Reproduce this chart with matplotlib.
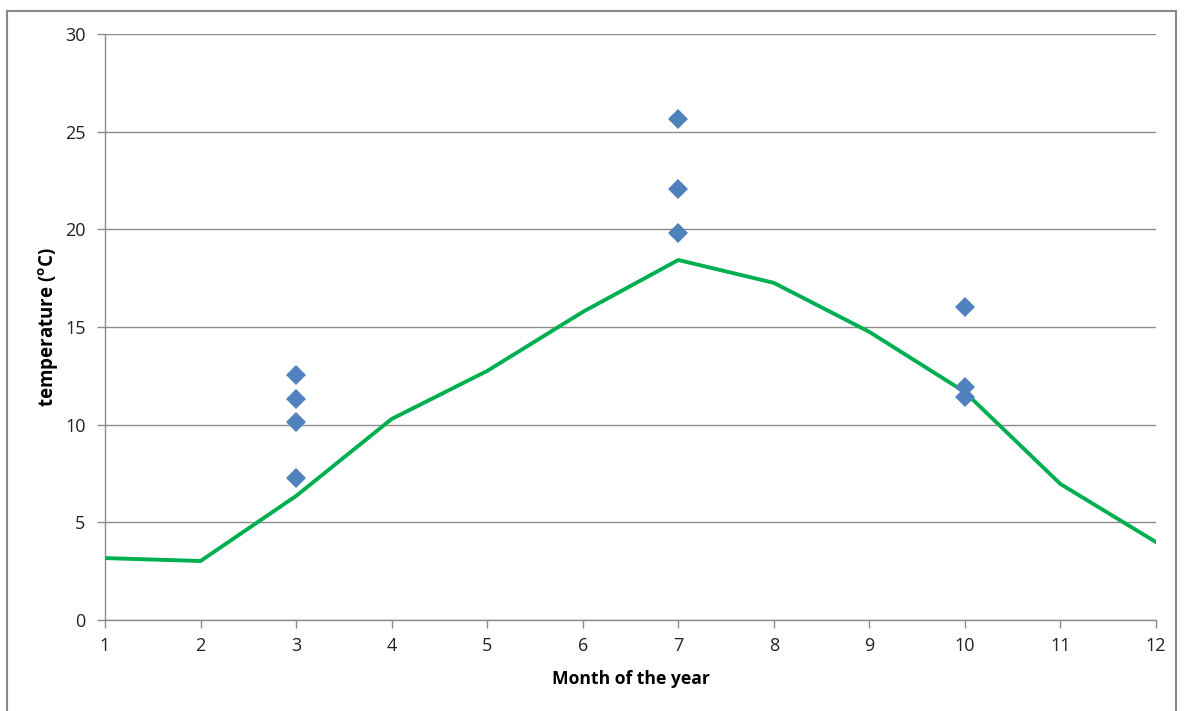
import matplotlib
matplotlib.use("Agg")
import matplotlib.pyplot as plt
from matplotlib.patches import Rectangle

months = list(range(1, 13))
line_temp = [3.17, 3.02, 6.35, 10.29, 12.75, 15.77, 18.43, 17.26, 14.75, 11.67, 6.96, 3.99]

obs_month = [3, 3, 3, 3, 7, 7, 7, 10, 10, 10]
obs_temp = [12.54, 11.32, 10.14, 7.27, 25.65, 22.07, 19.82, 16.03, 11.93, 11.42]

xticks = list(range(1, 13))
yticks = [0, 5, 10, 15, 20, 25, 30]

plt.rcParams['font.family'] = ['Open Sans', 'DejaVu Sans']
plt.rcParams['mathtext.fontset'] = 'custom'
plt.rcParams['mathtext.bf'] = 'Open Sans:bold'

fig = plt.figure(figsize=(11.84, 7.11), dpi=100)
ax = fig.add_axes([105/1184, 1-620/711, (1156-105)/1184, (620-34)/711])

# figure border
fig.patches.append(Rectangle((7/1184, -0.01), (1176-7)/1184, 1-11/711+0.01,
                             transform=fig.transFigure, fill=False,
                             edgecolor='#898989', linewidth=1.5))

ax.plot(months, line_temp, color='#00B050', linewidth=2.8, zorder=3)
ax.plot(obs_month, obs_temp, linestyle='none', marker='D', markersize=10.5,
        color='#4F81BD', markeredgewidth=0, zorder=4)

ax.set_xlim(1, 12)
ax.set_ylim(0, 30)
ax.set_xticks(xticks)
ax.set_yticks(yticks)
ax.yaxis.grid(True, color='#8c8c8c', linewidth=1)
ax.set_axisbelow(True)
for s in ['top', 'right']:
    ax.spines[s].set_visible(False)
for s in ['left', 'bottom']:
    ax.spines[s].set_color('#8c8c8c')
    ax.spines[s].set_linewidth(1)
ax.tick_params(axis='both', colors='#8c8c8c', labelcolor='#222222',
               labelsize=13, length=6, width=1, direction='out')
ax.tick_params(axis='y', pad=8)
ax.tick_params(axis='x', pad=6)

ax.set_xlabel('Month of the year', fontsize=12.6, fontweight='bold', labelpad=11)
ax.set_ylabel(r'temperature ($\mathbf{^{o}}$C)', fontsize=13.5, fontweight='bold', labelpad=3)

fig.savefig('out.png', dpi=100)
